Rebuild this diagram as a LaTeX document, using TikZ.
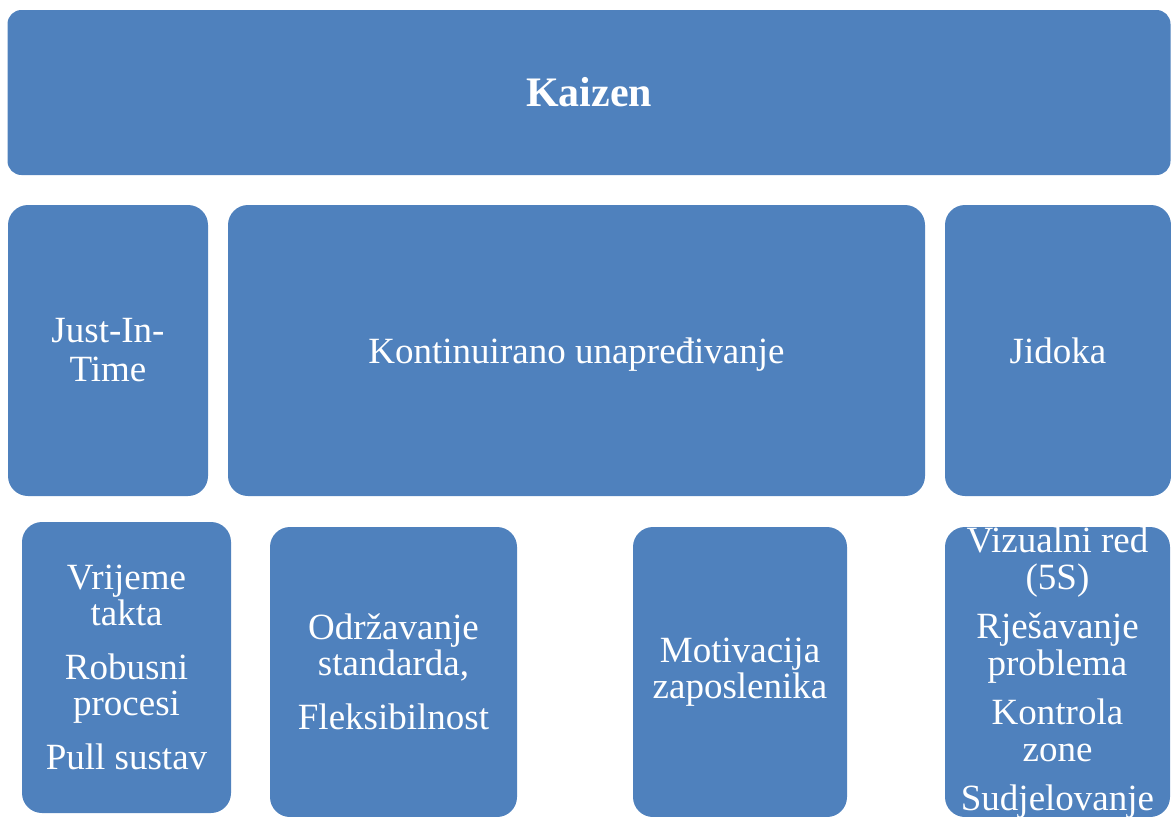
\documentclass[tikz,border=0pt]{standalone}
\usepackage{fontspec}
\setmainfont{Liberation Serif}
\definecolor{kblue}{RGB}{79,129,189}

\begin{document}
\begin{tikzpicture}[x=1pt, y=-1pt,
every node/.style = {shape=rectangle, rounded corners=20pt, fill=kblue,
	text=white, align=center, inner sep=0pt,
	font=\fontsize{37}{36}\selectfont}]
	\useasboundingbox (0,0) rectangle (1171,817);
	\node[minimum width=1163pt, minimum height=165pt, rounded corners=14pt,
		font=\fontsize{42}{42}\selectfont\bfseries] (kaizen) at (589,92.5) {Kaizen};
	\node[minimum width=200pt, minimum height=291pt] (jit) at (108,350.5)
		{Just-In-\\[3pt]Time};
	\node[minimum width=697pt, minimum height=291pt, text depth=0pt] (kont) at (576.5,350.5)
		{Kontinuirano unapređivanje};
	\node[minimum width=226pt, minimum height=291pt] (jidoka) at (1058,350.5) {Jidoka};
	\node[minimum width=209pt, minimum height=291pt] (takt) at (126.5,667.5)
		{Vrijeme\\takta\\[18pt]Robusni\\procesi\\[18pt]Pull sustav};
	\node[minimum width=247pt, minimum height=290pt] (standard) at (393.5,672)
		{Održavanje\\standarda,\\[18pt]Fleksibilnost};
	\node[minimum width=214pt, minimum height=290pt] (motiv) at (740,672)
		{Motivacija\\zaposlenika};
	\node[minimum width=225pt, minimum height=290pt] (vizual) at (1057.5,672) {};
	\node[fill=none, font=\fontsize{37}{37}\selectfont] (vizualtxt) at (1057.5,673)
		{Vizualni red\\(5S)\\[12pt]Rješavanje\\problema\\[12pt]Kontrola\\zone\\[12pt]Sudjelovanje};
\end{tikzpicture}
\end{document}
